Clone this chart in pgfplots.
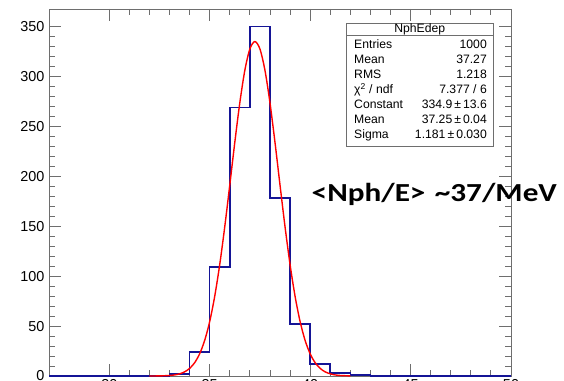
\documentclass[border=0pt]{standalone}
\usepackage{pgfplots}
\pgfplotsset{compat=1.18}
\usepackage{fontspec}
\setmainfont{Liberation Sans}
\newfontfamily\calibri{Carlito}
\definecolor{histblue}{RGB}{20,20,150}
\definecolor{framegray}{RGB}{110,110,110}
\begin{document}
\begin{tikzpicture}
\fill[white] (0pt,0pt) rectangle (564pt,380pt);
\begin{scope}
\clip (0pt,0pt) rectangle (564pt,380pt);
\begin{axis}[
  at={(49pt,4pt)}, anchor=south west,
  width=462pt, height=367pt, scale only axis,
  xmin=27, xmax=50, ymin=0, ymax=367.5,
  axis line style={framegray, line width=0.9pt},
  every tick/.style={framegray, line width=0.9pt},
  major tick length=12pt, minor tick length=6pt,
  tick align=inside,
  xtick={30,35,40,45,50}, minor x tick num=4,
  ytick={0,50,100,150,200,250,300,350}, minor y tick num=4,
  xtick pos=both, ytick pos=both,
  tick label style={font=\fontsize{14.4}{16}\selectfont},
  /pgf/number format/assume math mode=true,
  yticklabel style={xshift=-1pt},
  clip=false,
]
\addplot[const plot, histblue, line width=1.6pt] coordinates {
(27,0) (33,2) (34,24) (35,109) (36,269) (37,350) (38,178) (39,52) (40,12) (41,3) (42,1) (43,0) (50,0)
};
\addplot[red, line width=1.4pt, smooth] coordinates {
(32.0,0.02) (32.5,0.10) (33.0,0.52) (33.25,1.08) (33.5,2.17) (33.75,4.15) (34.0,7.59) (34.25,13.30)
(34.5,22.26) (34.75,35.64) (35.0,54.55) (35.25,79.82) (35.5,111.7) (35.75,149.5) (36.0,191.3)
(36.25,234.0) (36.5,273.7) (36.75,306.2) (37.0,327.5) (37.25,334.9) (37.5,327.5) (37.75,306.2)
(38.0,273.7) (38.25,234.0) (38.5,191.3) (38.75,149.5) (39.0,111.7) (39.25,79.82) (39.5,54.55)
(39.75,35.64) (40.0,22.26) (40.25,13.30) (40.5,7.59) (40.75,4.15) (41.0,2.17) (41.25,1.08)
(41.5,0.52) (42.0,0.10)
};
\end{axis}
\end{scope}
% stats box
\fill[white] (346.7pt,233.3pt) rectangle (493pt,356.7pt);
\draw[framegray, line width=0.8pt] (346.7pt,233.3pt) rectangle (493pt,356.7pt);
\draw[framegray, line width=0.8pt] (346.7pt,345pt) -- (493pt,345pt);
\begin{scope}[every node/.style={font=\fontsize{12.2}{14}\selectfont, inner sep=0pt}]
\node[anchor=base] at (419.8pt,347.5pt) {NphEdep};
\node[anchor=base west] at (354pt,331pt) {Entries};
\node[anchor=base east] at (487pt,331pt) {1000};
\node[anchor=base west] at (354pt,316pt) {Mean};
\node[anchor=base east] at (487pt,316pt) {37.27};
\node[anchor=base west] at (354pt,301pt) {RMS};
\node[anchor=base east] at (487pt,301pt) {1.218};
\node[anchor=base west] at (354pt,286pt) {χ\textsuperscript{2} / ndf};
\node[anchor=base east] at (487pt,286pt) {7.377 / 6};
\node[anchor=base west] at (354pt,271pt) {Constant};
\node[anchor=base east] at (487pt,271pt) {334.9\,±\,13.6};
\node[anchor=base west] at (354pt,256pt) {Mean};
\node[anchor=base east] at (487pt,256pt) {37.25\,±\,0.04};
\node[anchor=base west] at (354pt,241pt) {Sigma};
\node[anchor=base east] at (487pt,241pt) {1.181\,±\,0.030};
\end{scope}
\node[anchor=west, inner sep=0pt, xscale=1.2, font=\calibri\bfseries\fontsize{26}{28}\selectfont] at (311.5pt,186pt) {<Nph/E>\hspace{0.3em}\textasciitilde37/MeV};
\pgfresetboundingbox
\useasboundingbox (0pt,0pt) rectangle (564pt,380pt);
\end{tikzpicture}
\end{document}
